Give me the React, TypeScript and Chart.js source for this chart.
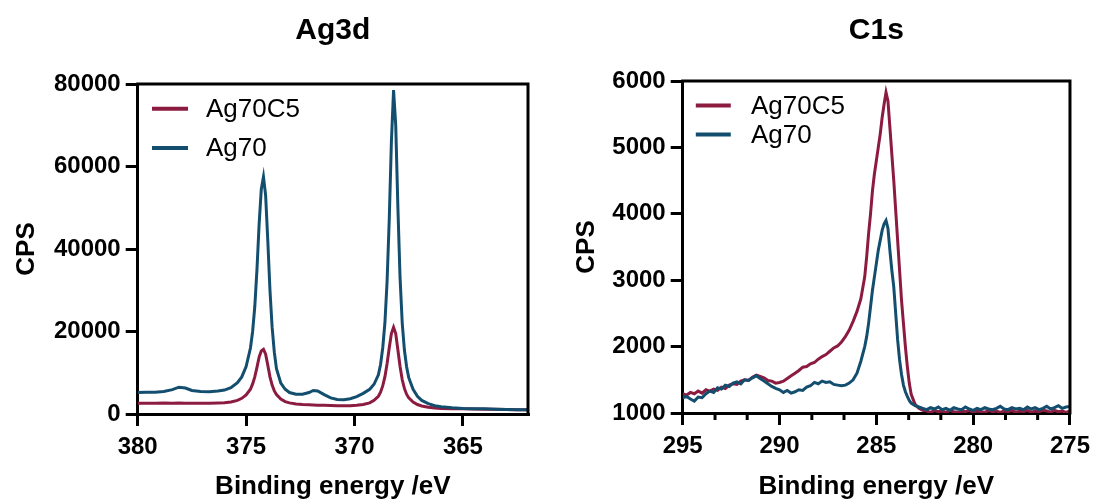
import React, { useEffect, useRef } from 'react';
import { Chart, registerables } from 'chart.js';

Chart.register(...registerables);

const RED = '#8C1B40';
const BLUE = '#134E6F';
const FONT = "'Liberation Sans', Arial, Helvetica, sans-serif";

const seriesNames = ['Ag70C5', 'Ag70'];
const panelTitles = ['Ag3d', 'C1s'];
const xAxisTitle = 'Binding energy /eV';
const yAxisTitle = 'CPS';

// ---------- Ag3d panel ----------
const agTicksX = [380, 375, 370, 365];
const agTicksY = [0, 20000, 40000, 60000, 80000];
const agEnergy = [
  380, 379.6, 379.2, 378.8, 378.4, 378.1, 377.8, 377.5, 377.1, 376.7,
  376.3, 376.0, 375.7, 375.4, 375.2, 375.0, 374.8, 374.7, 374.6, 374.5,
  374.4, 374.3, 374.2, 374.1, 374.0, 373.9, 373.8, 373.7, 373.6, 373.4,
  373.2, 373.0, 372.7, 372.4, 372.1, 371.9, 371.7, 371.4, 371.1, 370.8,
  370.5, 370.2, 369.9, 369.6, 369.3, 369.1, 368.9, 368.8, 368.7, 368.6,
  368.5, 368.4, 368.3, 368.2, 368.1, 368.0, 367.9, 367.8, 367.7, 367.6,
  367.5, 367.3, 367.1, 366.9, 366.6, 366.3, 366.0, 365.5, 365.0, 364.5,
  364.0, 363.5, 363.0, 362.5, 362.0,
];
const agAg70C5 = [
  2600, 2620, 2600, 2640, 2620, 2650, 2620, 2600, 2610, 2600,
  2650, 2700, 2900, 3300, 3800, 4600, 6000, 7300, 9000, 11300,
  13800, 15300, 15700, 14500, 11800, 9000, 7000, 5600, 4700, 3600,
  3000, 2700, 2450, 2300, 2250, 2200, 2150, 2100, 2050, 2000,
  1980, 2000, 2100, 2300, 2700, 3300, 4300, 5300, 6800, 9000,
  12200, 16000, 19500, 21000, 19500, 15500, 11500, 8300, 6200, 4800,
  3900, 2900, 2300, 1950, 1650, 1450, 1350, 1300, 1250, 1200,
  1180, 1150, 1100, 1050, 1000,
];
const agAg70 = [
  5200, 5300, 5250, 5450, 5900, 6500, 6300, 5700, 5450, 5400,
  5550, 5800, 6400, 7600, 9000, 11500, 16000, 20000, 26000, 35000,
  46000, 54500, 57500, 53000, 42000, 30000, 21000, 15000, 11000, 7500,
  6000, 5200, 4800, 4800, 5200, 5700, 5600, 4700, 3900, 3500,
  3450, 3700, 4200, 5000, 6000, 7200, 9500, 12000, 16000, 22000,
  32000, 47000, 66000, 78500, 70000, 50000, 33000, 22000, 15500, 11500,
  8800, 6000, 4300, 3300, 2500, 2000, 1750, 1500, 1350, 1300,
  1250, 1150, 1100, 1050, 1000,
];

// ---------- C1s panel ----------
const c1sTicksX = [295, 290, 285, 280, 275];
const c1sMinorX = [293.33, 291.67, 288.33, 286.67, 283.33, 281.67, 278.33, 276.67];
const c1sTicksY = [1000, 2000, 3000, 4000, 5000, 6000];
const c1sEnergy = [
  295.0, 294.8, 294.6, 294.4, 294.2, 294.0, 293.8, 293.6, 293.4, 293.2,
  293.0, 292.8, 292.6, 292.4, 292.2, 292.0, 291.8, 291.6, 291.4, 291.2,
  291.0, 290.8, 290.6, 290.4, 290.2, 290.0, 289.8, 289.6, 289.4, 289.2,
  289.0, 288.8, 288.6, 288.4, 288.2, 288.0, 287.8, 287.6, 287.4, 287.2,
  287.0, 286.8, 286.6, 286.4, 286.2, 286.0, 285.8, 285.6,
  285.5, 285.4, 285.3, 285.2, 285.1, 285.0, 284.9, 284.8, 284.7, 284.6,
  284.5, 284.4, 284.3, 284.2, 284.1, 284.0, 283.9, 283.8, 283.7, 283.6,
  283.5, 283.4, 283.3, 283.2,
  283.0, 282.8, 282.6, 282.4, 282.2, 282.0, 281.8, 281.6, 281.4, 281.2,
  281.0, 280.8, 280.6, 280.4, 280.2, 280.0, 279.8, 279.6, 279.4, 279.2,
  279.0, 278.8, 278.6, 278.4, 278.2, 278.0, 277.8, 277.6, 277.4, 277.2,
  277.0, 276.8, 276.6, 276.4, 276.2, 276.0, 275.8, 275.6, 275.4, 275.2,
  275.0,
];
const c1sAg70C5 = [
  1290, 1270, 1310, 1290, 1330, 1300, 1350, 1330, 1360, 1340,
  1390, 1370, 1420, 1440, 1430, 1480, 1500, 1490, 1540, 1570,
  1550, 1530, 1490, 1480, 1450, 1460, 1480, 1520, 1560, 1600,
  1640, 1690, 1700, 1740, 1760, 1810, 1850, 1880, 1930, 1980,
  2010, 2070, 2150, 2250, 2380, 2530, 2720, 3050,
  3350, 3700, 4000, 4350, 4600, 4800, 5000, 5200, 5450, 5650,
  5830, 5700, 5300, 4900, 4500, 4050, 3600, 3150, 2700, 2350,
  2000, 1700, 1450, 1280,
  1130, 1070, 1040, 1030, 1010, 1040, 1020, 1030, 1010, 1040,
  1020, 1010, 1030, 1020, 1040, 1010, 1030, 1020, 1010, 1040,
  1020, 1030, 1010, 1030, 1020, 1040, 1010, 1030, 1020, 1040,
  1010, 1030, 1020, 1040, 1030, 1010, 1040, 1020, 1030, 1010,
  1030,
];
const c1sAg70 = [
  1230, 1250, 1210, 1180, 1240, 1230, 1290, 1330, 1310, 1380,
  1360, 1420, 1400, 1450, 1470, 1440, 1500, 1490, 1530, 1560,
  1520, 1480, 1440, 1400, 1370, 1350, 1310, 1340, 1300, 1320,
  1350, 1340, 1390, 1410, 1460, 1440, 1480, 1460, 1470, 1430,
  1420, 1410, 1420, 1450, 1500, 1600, 1780, 2000,
  2150, 2350, 2600, 2850, 3050, 3250, 3450, 3600, 3750, 3850,
  3900, 3780, 3450, 3150, 2900, 2500, 2100, 1800, 1580, 1420,
  1320, 1250, 1190, 1150,
  1110, 1090, 1070, 1050, 1080, 1060, 1090, 1050, 1070, 1040,
  1080, 1060, 1050, 1090, 1060, 1040, 1070, 1050, 1080, 1060,
  1050, 1070, 1100, 1060, 1050, 1080, 1060, 1070, 1050, 1090,
  1060, 1080, 1050, 1070, 1100, 1060, 1080, 1110, 1070, 1090,
  1100,
];

const framePlugin = {
  id: 'frame',
  afterDraw(chart: any, _args: any, opts: any) {
    const { ctx, chartArea: a } = chart;
    ctx.save();
    ctx.strokeStyle = '#000';
    ctx.lineWidth = 3;
    ctx.lineCap = 'butt';
    ctx.beginPath();
    ctx.moveTo(a.left - 1.5, a.top);
    ctx.lineTo(a.right, a.top);
    ctx.lineTo(a.right, a.bottom + 1.5);
    ctx.stroke();
    if (opts.minor) {
      const xs = chart.scales.x;
      ctx.beginPath();
      opts.minor.forEach((v: number) => {
        const px = xs.getPixelForValue(v);
        ctx.moveTo(px, a.bottom);
        ctx.lineTo(px, a.bottom + 7);
      });
      ctx.stroke();
    }
    const lg = opts.legend;
    chart.data.datasets.forEach((ds: any, i: number) => {
      const y = a.top + lg.dy + i * lg.gap;
      ctx.strokeStyle = ds.borderColor;
      ctx.lineWidth = 4;
      ctx.beginPath();
      ctx.moveTo(a.left + lg.dx, y);
      ctx.lineTo(a.left + lg.dx + lg.w, y);
      ctx.stroke();
      ctx.fillStyle = '#000';
      ctx.font = `26px ${FONT}`;
      ctx.textBaseline = 'middle';
      ctx.textAlign = 'left';
      ctx.fillText(ds.label, a.left + lg.tx, y + 1);
    });
    ctx.restore();
  },
};

function makeConfig(p: any): any {
  const tickFont = { family: FONT, size: 24, weight: 'bold' };
  const titleFont = { family: FONT, size: 26, weight: 'bold', lineHeight: 1 };
  return {
    type: 'line',
    data: {
      datasets: [
        {
          label: seriesNames[0],
          data: p.energy.map((x: number, i: number) => ({ x, y: p.red[i] })),
          borderColor: RED,
          backgroundColor: RED,
          borderWidth: 3,
          pointRadius: 0,
          tension: 0,
          fill: false,
          order: 2,
        },
        {
          label: seriesNames[1],
          data: p.energy.map((x: number, i: number) => ({ x, y: p.blue[i] })),
          borderColor: BLUE,
          backgroundColor: BLUE,
          borderWidth: 3,
          pointRadius: 0,
          tension: 0,
          fill: false,
          order: 1,
        },
      ],
    },
    options: {
      responsive: false,
      maintainAspectRatio: false,
      animation: false,
      events: [],
      layout: { padding: { left: 0, right: p.padRight, top: 0, bottom: 0 } },
      plugins: {
        legend: { display: false },
        tooltip: { enabled: false },
        title: {
          display: true,
          text: p.title,
          fullSize: false,
          color: '#000',
          font: { family: FONT, size: 30, weight: 'bold', lineHeight: 1 },
          padding: { top: 16, bottom: p.titleBottom },
        },
        frame: { minor: p.minor, legend: p.legend },
      },
      scales: {
        x: {
          type: 'linear',
          reverse: true,
          min: p.xMin,
          max: p.xMax,
          afterBuildTicks: (s: any) => {
            s.ticks = p.xTicks.map((v: number) => ({ value: v }));
          },
          afterFit: (s: any) => {
            s.height = p.xHeight;
          },
          ticks: {
            font: tickFont,
            color: '#000',
            padding: 7,
            maxRotation: 0,
            autoSkip: false,
            callback: (v: any) => String(v),
          },
          grid: {
            display: true,
            drawOnChartArea: false,
            drawTicks: true,
            tickLength: 12,
            color: '#000',
            lineWidth: 3,
          },
          border: { display: true, color: '#000', width: 3 },
          title: {
            display: true,
            text: xAxisTitle,
            color: '#000',
            font: titleFont,
            padding: { top: 0, bottom: 0 },
          },
        },
        y: {
          type: 'linear',
          min: p.yMin,
          max: p.yMax,
          afterBuildTicks: (s: any) => {
            s.ticks = p.yTicks.map((v: number) => ({ value: v }));
          },
          afterFit: (s: any) => {
            s.width = p.yWidth;
          },
          ticks: {
            font: tickFont,
            color: '#000',
            padding: 5,
            autoSkip: false,
            callback: (v: any) => String(v),
          },
          grid: {
            display: true,
            drawOnChartArea: false,
            drawTicks: true,
            tickLength: 12,
            color: '#000',
            lineWidth: 3,
          },
          border: { display: true, color: '#000', width: 3 },
          title: {
            display: true,
            text: yAxisTitle,
            color: '#000',
            font: titleFont,
            padding: { top: p.yTitlePad, bottom: 0 },
          },
        },
      },
    },
    plugins: [framePlugin],
  };
}

const agPanel = {
  title: panelTitles[0],
  energy: agEnergy,
  red: agAg70C5,
  blue: agAg70,
  xMin: 362,
  xMax: 380,
  yMin: 0,
  yMax: 80000,
  xTicks: agTicksX,
  yTicks: agTicksY,
  minor: null,
  padRight: 32,
  titleBottom: 38,
  xHeight: 86,
  yWidth: 137.7,
  yTitlePad: 14,
  legend: { dx: 14.3, w: 36, tx: 68.3, dy: 24.8, gap: 39.2 },
};

const c1sPanel = {
  title: panelTitles[1],
  energy: c1sEnergy,
  red: c1sAg70C5,
  blue: c1sAg70,
  xMin: 275,
  xMax: 295,
  yMin: 1000,
  yMax: 6000,
  xTicks: c1sTicksX,
  yTicks: c1sTicksY,
  minor: c1sMinorX,
  padRight: 24,
  titleBottom: 35,
  xHeight: 87,
  yWidth: 122.7,
  yTitlePad: 14,
  legend: { dx: 13.1, w: 35, tx: 68.3, dy: 24.4, gap: 29 },
};

export default function App() {
  const leftRef = useRef<HTMLCanvasElement>(null);
  const rightRef = useRef<HTMLCanvasElement>(null);
  useEffect(() => {
    const c1 = new Chart(leftRef.current as HTMLCanvasElement, makeConfig(agPanel));
    const c2 = new Chart(rightRef.current as HTMLCanvasElement, makeConfig(c1sPanel));
    return () => {
      c1.destroy();
      c2.destroy();
    };
  }, []);
  return (
    <div style={{ position: 'fixed', left: 0, top: 0, width: 1097, height: 500, background: '#fff', overflow: 'hidden' }}>
      <canvas ref={leftRef} width={560} height={500} style={{ position: 'absolute', left: 0, top: 0 }} />
      <canvas ref={rightRef} width={537} height={500} style={{ position: 'absolute', left: 560, top: 0 }} />
    </div>
  );
}
